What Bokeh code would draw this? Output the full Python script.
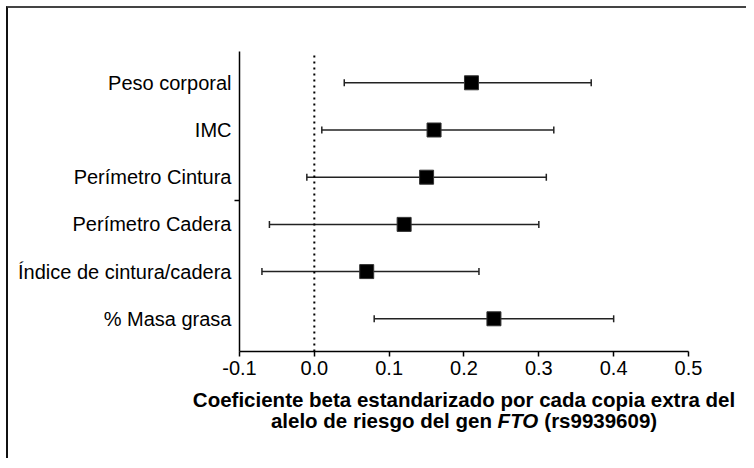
from bokeh.plotting import figure
from bokeh.models import Whisker, ColumnDataSource, FixedTicker, Label, TeeHead, Range1d
from bokeh.core.properties import value
from bokeh.embed import file_html
from bokeh.resources import INLINE

categories = ["Peso corporal", "IMC", "Perímetro Cintura", "Perímetro Cadera",
              "Índice de cintura/cadera", "% Masa grasa"]
beta = [0.21, 0.16, 0.15, 0.12, 0.07, 0.24]
lower = [0.04, 0.01, -0.01, -0.06, -0.07, 0.08]
upper = [0.37, 0.32, 0.31, 0.30, 0.22, 0.40]
x_ticks = [-0.1, 0.0, 0.1, 0.2, 0.3, 0.4, 0.5]
xlabel_line1 = "Coeficiente beta estandarizado por cada copia extra del"
xlabel_line2 = ["alelo de riesgo del gen", "FTO", "(rs9939609)"]

ypos = [len(categories) - i for i in range(len(categories))]
src = ColumnDataSource(dict(y=ypos, beta=beta, lower=lower, upper=upper,
                            cat=categories, xaxis=[x_ticks[0]] * len(categories)))

FONT = "Liberation Sans"
# frame covers the whole canvas; axes are drawn at fixed locations inside it
FW, FH = 728, 450
X_LEFT, X_RIGHT = -0.3953, 0.5775
Y_TOP_FRAME, Y_TOP, Y_AXIS, Y_BOTTOM = 7.574, 6.663, 0.307, -1.960

p = figure(output_backend="svg", toolbar_location=None,
           frame_width=FW, frame_height=FH,
           min_border_left=10, min_border_right=0, min_border_top=0, min_border_bottom=0,
           x_range=Range1d(X_LEFT, X_RIGHT), y_range=Range1d(Y_BOTTOM, Y_TOP_FRAME))
p.styles = {"border-top": "2px solid #444", "border-left": "2px solid #111",
            "margin-left": "6px", "margin-top": "6px"}
p.outline_line_color = None
p.grid.grid_line_color = None

# dotted reference line at zero, between x axis and top of plot
p.segment(x0=[0], y0=[Y_AXIS], x1=[0], y1=[Y_TOP], line_color="black",
          line_width=2, line_dash="2 4")

w = Whisker(source=src, base="y", lower="lower", upper="upper", dimension="width",
            line_color="#222222", line_width=1.5,
            lower_head=TeeHead(size=7, line_color="#222222", line_width=1.5),
            upper_head=TeeHead(size=7, line_color="#222222", line_width=1.5))
p.add_layout(w)

p.scatter(x="beta", y="y", source=src, marker="square", size=14,
          fill_color="black", line_color="#333333", line_width=1)

# category labels to the left of the y axis
p.text(x="xaxis", y="y", text="cat", source=src, x_offset=-8,
       text_align="right", text_baseline="middle", text_color="black",
       text_font=value(FONT), text_font_size="20px")

# x axis
p.xaxis.fixed_location = Y_AXIS
p.xaxis.bounds = (x_ticks[0], x_ticks[-1])
p.xaxis.ticker = FixedTicker(ticks=x_ticks, minor_ticks=[])
p.xaxis.major_label_overrides = {t: f"{t:.1f}" for t in x_ticks}
p.xaxis.axis_line_color = "black"
p.xaxis.axis_line_width = 1.5
p.xaxis.major_tick_out = 5
p.xaxis.major_tick_in = 0
p.xaxis.major_tick_line_width = 1.5
p.xaxis.major_label_standoff = 5
p.xaxis.major_label_text_font = FONT
p.xaxis.major_label_text_font_size = "20px"
p.xaxis.major_label_text_color = "black"

# y axis (line plus the single small tick between groups)
p.yaxis.fixed_location = x_ticks[0]
p.yaxis.bounds = (Y_AXIS, Y_TOP)
p.yaxis.ticker = FixedTicker(ticks=[], minor_ticks=[3.5])
p.yaxis.axis_line_color = "black"
p.yaxis.axis_line_width = 1.5
p.yaxis.major_tick_out = 0
p.yaxis.major_tick_in = 0
p.yaxis.minor_tick_out = 5
p.yaxis.minor_tick_in = 0
p.yaxis.minor_tick_line_width = 1.5
p.yaxis.minor_tick_line_color = "black"

# axis title (two lines, italic gene name)
fs = 20.5
common = dict(text_font=FONT, text_font_size=f"{fs}px",
              text_font_style="bold", text_color="black", text_baseline="alphabetic")
xc = (x_ticks[0] + x_ticks[-1]) / 2
y1_off, y2_off = -48, -69
p.add_layout(Label(x=xc, y=Y_AXIS, y_offset=y1_off, text=xlabel_line1, text_align="center", **common))
em_part1, em_space, em_fto, em_part3 = 10.782, 0.278, 2.0, 5.503
total = (em_part1 + em_space + em_fto + em_space + em_part3) * fs
start = -total / 2
off1 = start + em_part1 * fs
off2 = off1 + em_space * fs
off3 = off2 + (em_fto + em_space) * fs
p.add_layout(Label(x=xc, y=Y_AXIS, x_offset=off1, y_offset=y2_off, text=xlabel_line2[0],
                   text_align="right", **common))
c2 = dict(common)
c2["text_font_style"] = "bold italic"
p.add_layout(Label(x=xc, y=Y_AXIS, x_offset=off2, y_offset=y2_off, text=xlabel_line2[1],
                   text_align="left", **c2))
p.add_layout(Label(x=xc, y=Y_AXIS, x_offset=off3, y_offset=y2_off, text=xlabel_line2[2],
                   text_align="left", **common))

open("out.html", "w").write(file_html(p, INLINE))
